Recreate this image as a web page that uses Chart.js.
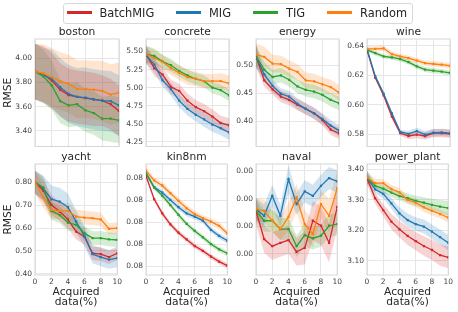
<!DOCTYPE html>
<html>
<head>
<meta charset="utf-8">
<script src="https://cdn.jsdelivr.net/npm/chart.js@4.4.0/dist/chart.umd.min.js"></script>
<style>
  body { margin: 0; background: #fff; font-family: 'DejaVu Sans', sans-serif; }
  #fig { position: relative; width: 458px; height: 312px; overflow: hidden; }
  .panel { position: absolute; }
  #legendBox { position: absolute; left: 63px; top: 3px; width: 350px; height: 21px;
               border: 1px solid #d8d8d8; border-radius: 3px; box-sizing: border-box; }
  .swatch { position: absolute; top: 11px; width: 25px; height: 3px; }
  .label { position: absolute; top: 3px; line-height: 20px; font-size: 11.4px; color: #262626; }
</style>
</head>
<body>
<div id="fig">
  <div id="legendBox"></div>
</div>
<script>
// x positions (acquired data %)
const xSteps = [0, 1, 2, 3, 4, 5, 6, 7, 8, 9, 10];
const methods = ['BatchMIG', 'MIG', 'TIG', 'Random'];

// boston
const boston_BatchMIG = [3.89, 3.87, 3.815, 3.74, 3.695, 3.68, 3.67, 3.66, 3.65, 3.62, 3.565];
const boston_MIG      = [3.89, 3.86, 3.83, 3.76, 3.705, 3.68, 3.675, 3.66, 3.65, 3.645, 3.61];
const boston_TIG      = [3.89, 3.85, 3.775, 3.645, 3.61, 3.62, 3.57, 3.547, 3.50, 3.50, 3.487];
const boston_Random   = [3.89, 3.875, 3.845, 3.81, 3.79, 3.745, 3.745, 3.74, 3.73, 3.70, 3.715];
const boston_BatchMIG_sd = [0.23, 0.23, 0.23, 0.22, 0.22, 0.22, 0.22, 0.22, 0.21, 0.21, 0.21];
const boston_MIG_sd      = [0.23, 0.23, 0.24, 0.24, 0.24, 0.24, 0.25, 0.25, 0.25, 0.25, 0.25];
const boston_TIG_sd      = [0.23, 0.22, 0.20, 0.18, 0.18, 0.18, 0.18, 0.18, 0.18, 0.19, 0.19];
const boston_Random_sd   = [0.23, 0.24, 0.24, 0.24, 0.24, 0.24, 0.24, 0.24, 0.25, 0.25, 0.25];
const boston_ticks = [3.4, 3.6, 3.8, 4.0];

// concrete
const concrete_BatchMIG = [5.46, 5.27, 5.18, 5.01, 4.955, 4.82, 4.73, 4.675, 4.60, 4.51, 4.48];
const concrete_MIG      = [5.45, 5.32, 5.10, 4.98, 4.82, 4.705, 4.625, 4.56, 4.49, 4.44, 4.38];
const concrete_TIG      = [5.46, 5.44, 5.36, 5.31, 5.23, 5.17, 5.12, 5.09, 5.00, 4.965, 4.895];
const concrete_Random   = [5.46, 5.41, 5.355, 5.27, 5.205, 5.145, 5.12, 5.09, 5.09, 5.09, 5.06];
const concrete_BatchMIG_sd = [0.12, 0.11, 0.10, 0.10, 0.10, 0.10, 0.10, 0.10, 0.10, 0.10, 0.10];
const concrete_MIG_sd      = [0.12, 0.10, 0.09, 0.09, 0.09, 0.09, 0.09, 0.10, 0.10, 0.10, 0.10];
const concrete_TIG_sd      = [0.12, 0.10, 0.09, 0.09, 0.08, 0.08, 0.08, 0.08, 0.08, 0.08, 0.08];
const concrete_Random_sd   = [0.12, 0.11, 0.10, 0.10, 0.10, 0.10, 0.10, 0.10, 0.10, 0.11, 0.11];
const concrete_ticks = [4.25, 4.5, 4.75, 5.0, 5.25, 5.5];

// energy
const energy_BatchMIG = [0.516, 0.473, 0.457, 0.444, 0.438, 0.429, 0.422, 0.414, 0.402, 0.385, 0.378];
const energy_MIG      = [0.516, 0.4835, 0.463, 0.449, 0.444, 0.431, 0.422, 0.414, 0.404, 0.392, 0.383];
const energy_TIG      = [0.516, 0.492, 0.479, 0.482, 0.474, 0.462, 0.456, 0.453, 0.447, 0.438, 0.432];
const energy_Random   = [0.519, 0.515, 0.503, 0.502, 0.494, 0.488, 0.473, 0.471, 0.466, 0.461, 0.451];
const energy_BatchMIG_sd = [0.020, 0.012, 0.010, 0.010, 0.010, 0.010, 0.010, 0.010, 0.010, 0.010, 0.010];
const energy_MIG_sd      = [0.020, 0.012, 0.011, 0.010, 0.010, 0.010, 0.010, 0.010, 0.010, 0.010, 0.010];
const energy_TIG_sd      = [0.020, 0.014, 0.013, 0.013, 0.012, 0.012, 0.012, 0.012, 0.012, 0.012, 0.012];
const energy_Random_sd   = [0.020, 0.018, 0.016, 0.015, 0.015, 0.014, 0.014, 0.014, 0.013, 0.013, 0.013];
const energy_ticks = [0.40, 0.45, 0.50];

// wine
const wine_BatchMIG = [0.6371, 0.6182, 0.6064, 0.592, 0.5809, 0.5789, 0.5798, 0.5789, 0.5809, 0.5809, 0.5804];
const wine_MIG      = [0.6376, 0.6193, 0.6076, 0.5942, 0.5816, 0.5804, 0.5822, 0.5798, 0.5811, 0.5813, 0.5809];
const wine_TIG      = [0.6371, 0.6349, 0.6327, 0.632, 0.6309, 0.6289, 0.626, 0.6238, 0.6231, 0.6224, 0.6216];
const wine_Random   = [0.6378, 0.6378, 0.6382, 0.6342, 0.6327, 0.6316, 0.6298, 0.6282, 0.6276, 0.6271, 0.6264];
const wine_BatchMIG_sd = [0.001, 0.001, 0.001, 0.0012, 0.0018, 0.0022, 0.0025, 0.0025, 0.0028, 0.0028, 0.0028];
const wine_MIG_sd      = [0.001, 0.001, 0.001, 0.0012, 0.0015, 0.002, 0.0022, 0.0025, 0.0025, 0.0025, 0.0025];
const wine_TIG_sd      = [0.0015, 0.0015, 0.0015, 0.0015, 0.0016, 0.0016, 0.0017, 0.0017, 0.0018, 0.0018, 0.0018];
const wine_Random_sd   = [0.0018, 0.0018, 0.0018, 0.0018, 0.0018, 0.0018, 0.0018, 0.0018, 0.0018, 0.0018, 0.0018];
const wine_ticks = [0.58, 0.60, 0.62, 0.64];

// yacht
const yacht_BatchMIG = [0.80, 0.764, 0.701, 0.672, 0.638, 0.585, 0.563, 0.49, 0.486, 0.473, 0.49];
const yacht_MIG      = [0.80, 0.774, 0.726, 0.716, 0.691, 0.628, 0.566, 0.486, 0.473, 0.462, 0.469];
const yacht_TIG      = [0.80, 0.778, 0.675, 0.657, 0.624, 0.614, 0.578, 0.556, 0.556, 0.551, 0.548];
const yacht_Random   = [0.803, 0.735, 0.68, 0.675, 0.675, 0.65, 0.646, 0.643, 0.638, 0.597, 0.60];
const yacht_BatchMIG_sd = [0.05, 0.05, 0.045, 0.04, 0.04, 0.035, 0.035, 0.03, 0.03, 0.03, 0.03];
const yacht_MIG_sd      = [0.05, 0.055, 0.06, 0.06, 0.06, 0.05, 0.045, 0.04, 0.04, 0.04, 0.04];
const yacht_TIG_sd      = [0.05, 0.05, 0.04, 0.035, 0.035, 0.03, 0.03, 0.03, 0.03, 0.03, 0.03];
const yacht_Random_sd   = [0.05, 0.045, 0.04, 0.035, 0.035, 0.03, 0.03, 0.03, 0.03, 0.025, 0.025];
const yacht_ticks = [0.4, 0.5, 0.6, 0.7, 0.8];

// kin8nm
const kin8nm_BatchMIG = [0.08211, 0.08105, 0.0804, 0.0799, 0.07952, 0.07921, 0.07891, 0.07869, 0.07843, 0.0782, 0.07802];
const kin8nm_MIG      = [0.08223, 0.08159, 0.08135, 0.08101, 0.08068, 0.0804, 0.08025, 0.08007, 0.07965, 0.07937, 0.07916];
const kin8nm_TIG      = [0.08223, 0.08158, 0.08121, 0.08078, 0.08033, 0.07992, 0.0796, 0.07931, 0.079, 0.07876, 0.07858];
const kin8nm_Random   = [0.08235, 0.0819, 0.08167, 0.08132, 0.08097, 0.08063, 0.08037, 0.08018, 0.08002, 0.07983, 0.07949];
const kin8nm_BatchMIG_sd = [0.00012, 0.00012, 0.00012, 0.00012, 0.00012, 0.00012, 0.00012, 0.00012, 0.00012, 0.00012, 0.00012];
const kin8nm_MIG_sd      = [0.00013, 0.00013, 0.00013, 0.00013, 0.00013, 0.00013, 0.00013, 0.00013, 0.00013, 0.00013, 0.00013];
const kin8nm_TIG_sd      = [0.00012, 0.00012, 0.00012, 0.00012, 0.00012, 0.00012, 0.00012, 0.00012, 0.00012, 0.00012, 0.00012];
const kin8nm_Random_sd   = [0.00015, 0.00015, 0.00015, 0.00015, 0.00015, 0.00015, 0.00015, 0.00015, 0.00015, 0.00015, 0.00015];
const kin8nm_ticks = [0.078, 0.079, 0.080, 0.081, 0.082];

// naval
const naval_BatchMIG = [0.00256, 0.00154, 0.00128, 0.0014, 0.0015, 0.00108, 0.00122, 0.0022, 0.00202, 0.0014, 0.0027];
const naval_MIG      = [0.00262, 0.00238, 0.0031, 0.00238, 0.0037, 0.0028, 0.00326, 0.0031, 0.00346, 0.00374, 0.00362];
const naval_TIG      = [0.00256, 0.0022, 0.0022, 0.0019, 0.0019, 0.00128, 0.00168, 0.00156, 0.00166, 0.00202, 0.00208];
const naval_Random   = [0.00262, 0.00256, 0.0022, 0.0019, 0.00234, 0.00304, 0.00208, 0.00172, 0.0028, 0.00238, 0.00338];
const naval_BatchMIG_sd = [0.0005, 0.0005, 0.0005, 0.0005, 0.0005, 0.0005, 0.0006, 0.0007, 0.0007, 0.0007, 0.0008];
const naval_MIG_sd      = [0.0004, 0.0004, 0.0004, 0.0004, 0.0005, 0.0004, 0.0004, 0.0004, 0.0004, 0.0004, 0.0004];
const naval_TIG_sd      = [0.0004, 0.0004, 0.0004, 0.0004, 0.0004, 0.0004, 0.0004, 0.0004, 0.0004, 0.0004, 0.0004];
const naval_Random_sd   = [0.0004, 0.0004, 0.0004, 0.0004, 0.0005, 0.0005, 0.0005, 0.0005, 0.0005, 0.0006, 0.0006];
const naval_ticks = [0.001, 0.002, 0.003, 0.004];

// power_plant
const power_BatchMIG = [3.37, 3.305, 3.266, 3.228, 3.203, 3.181, 3.164, 3.148, 3.135, 3.118, 3.111];
const power_MIG      = [3.373, 3.334, 3.319, 3.288, 3.255, 3.233, 3.22, 3.212, 3.195, 3.177, 3.159];
const power_TIG      = [3.373, 3.345, 3.336, 3.323, 3.312, 3.305, 3.296, 3.29, 3.283, 3.277, 3.272];
const power_Random   = [3.373, 3.354, 3.354, 3.335, 3.324, 3.299, 3.29, 3.275, 3.263, 3.253, 3.241];
const power_BatchMIG_sd = [0.02, 0.018, 0.02, 0.025, 0.027, 0.03, 0.03, 0.032, 0.033, 0.035, 0.035];
const power_MIG_sd      = [0.02, 0.014, 0.015, 0.018, 0.02, 0.022, 0.022, 0.023, 0.024, 0.025, 0.025];
const power_TIG_sd      = [0.02, 0.014, 0.013, 0.014, 0.015, 0.016, 0.017, 0.018, 0.02, 0.022, 0.024];
const power_Random_sd   = [0.02, 0.014, 0.013, 0.014, 0.014, 0.014, 0.014, 0.015, 0.015, 0.015, 0.015];
const power_ticks = [3.1, 3.2, 3.3, 3.4];

const panels = [
  { title: 'boston', yMin: 3.27, yMax: 4.16, ticks: boston_ticks,
    series: [boston_BatchMIG, boston_MIG, boston_TIG, boston_Random],
    sd: [boston_BatchMIG_sd, boston_MIG_sd, boston_TIG_sd, boston_Random_sd] },
  { title: 'concrete', yMin: 4.186, yMax: 5.673, ticks: concrete_ticks,
    series: [concrete_BatchMIG, concrete_MIG, concrete_TIG, concrete_Random],
    sd: [concrete_BatchMIG_sd, concrete_MIG_sd, concrete_TIG_sd, concrete_Random_sd] },
  { title: 'energy', yMin: 0.3546, yMax: 0.547, ticks: energy_ticks,
    series: [energy_BatchMIG, energy_MIG, energy_TIG, energy_Random],
    sd: [energy_BatchMIG_sd, energy_MIG_sd, energy_TIG_sd, energy_Random_sd] },
  { title: 'wine', yMin: 0.5718, yMax: 0.6445, ticks: wine_ticks,
    series: [wine_BatchMIG, wine_MIG, wine_TIG, wine_Random],
    sd: [wine_BatchMIG_sd, wine_MIG_sd, wine_TIG_sd, wine_Random_sd] },
  { title: 'yacht', yMin: 0.395, yMax: 0.88, ticks: yacht_ticks,
    series: [yacht_BatchMIG, yacht_MIG, yacht_TIG, yacht_Random],
    sd: [yacht_BatchMIG_sd, yacht_MIG_sd, yacht_TIG_sd, yacht_Random_sd] },
  { title: 'kin8nm', yMin: 0.07759, yMax: 0.08265, ticks: kin8nm_ticks,
    series: [kin8nm_BatchMIG, kin8nm_MIG, kin8nm_TIG, kin8nm_Random],
    sd: [kin8nm_BatchMIG_sd, kin8nm_MIG_sd, kin8nm_TIG_sd, kin8nm_Random_sd] },
  { title: 'naval', yMin: 0.00024, yMax: 0.00425, ticks: naval_ticks,
    series: [naval_BatchMIG, naval_MIG, naval_TIG, naval_Random],
    sd: [naval_BatchMIG_sd, naval_MIG_sd, naval_TIG_sd, naval_Random_sd] },
  { title: 'power_plant', yMin: 3.053, yMax: 3.417, ticks: power_ticks,
    series: [power_BatchMIG, power_MIG, power_TIG, power_Random],
    sd: [power_BatchMIG_sd, power_MIG_sd, power_TIG_sd, power_Random_sd] }
];

const LINE_COLORS = ['#d62728', '#1f77b4', '#2ca02c', '#ff7f0e'];
const BAND_COLORS = ['rgba(214,39,40,0.2)', 'rgba(31,119,180,0.2)', 'rgba(44,160,44,0.2)', 'rgba(255,127,14,0.2)'];
const GRID = '#e6e6e6';
const SPINE = '#d6d6d6';
const TEXT = '#262626';
const TICK_TEXT = '#444';

// plot-area edges in page pixels
const colLeft = [35, 146, 256, 367];
const colRight = [119, 229, 339, 450];
const rowTop = [39, 164];
const rowBottom = [148, 275];
const TITLE_H = 13;
const PAD_R = 6;

Chart.defaults.font.family = "'DejaVu Sans', sans-serif";

// light box around each axes, under the data
const framePlugin = {
  id: 'frame',
  beforeDatasetsDraw(chart) {
    const { ctx, chartArea: a } = chart;
    ctx.save();
    ctx.strokeStyle = SPINE;
    ctx.lineWidth = 1;
    ctx.strokeRect(a.left, a.top, a.right - a.left, a.bottom - a.top);
    ctx.restore();
  }
};

// subplot title centred over the plot area
const panelTitlePlugin = {
  id: 'panelTitle',
  afterDraw(chart, args, opts) {
    const { ctx, chartArea: a } = chart;
    ctx.save();
    ctx.font = "10.7px 'DejaVu Sans'";
    ctx.fillStyle = TEXT;
    ctx.textAlign = 'center';
    ctx.textBaseline = 'middle';
    ctx.fillText(opts.text, (a.left + a.right) / 2, a.top - TITLE_H / 2);
    ctx.restore();
  }
};

const fig = document.getElementById('fig');

panels.forEach((p, idx) => {
  const row = Math.floor(idx / 4);
  const col = idx % 4;
  const yAxisW = col === 0 ? 35 : 26;
  const xAxisH = row === 0 ? 6 : 312 - rowBottom[1];
  const left = colLeft[col] - yAxisW;
  const top = rowTop[row] - TITLE_H;
  const width = colRight[col] + PAD_R - left;
  const height = rowBottom[row] + xAxisH - top;

  const box = document.createElement('div');
  box.className = 'panel';
  box.style.left = left + 'px';
  box.style.top = top + 'px';
  const canvas = document.createElement('canvas');
  canvas.width = width;
  canvas.height = height;
  box.appendChild(canvas);
  fig.appendChild(box);

  const datasets = [];
  p.series.forEach((vals, k) => {
    const sd = p.sd[k];
    datasets.push({
      data: vals.map((v, i) => ({ x: xSteps[i], y: v + sd[i] })),
      borderWidth: 0, pointRadius: 0, fill: false, order: 10 + k
    });
    datasets.push({
      data: vals.map((v, i) => ({ x: xSteps[i], y: v - sd[i] })),
      borderWidth: 0, pointRadius: 0, fill: '-1', backgroundColor: BAND_COLORS[k], order: 10 + k
    });
    datasets.push({
      label: methods[k],
      data: vals.map((v, i) => ({ x: xSteps[i], y: v })),
      borderColor: LINE_COLORS[k], backgroundColor: LINE_COLORS[k],
      borderWidth: 1.3, pointStyle: 'rect', pointRadius: 1.6, pointBorderWidth: 0,
      fill: false, order: 3 - k
    });
  });

  new Chart(canvas, {
    type: 'line',
    data: { datasets },
    options: {
      responsive: false,
      animation: false,
      layout: { padding: { left: 0, right: PAD_R, top: TITLE_H, bottom: 0 } },
      plugins: {
        legend: { display: false },
        tooltip: { enabled: false },
        title: { display: false },
        panelTitle: { text: p.title }
      },
      scales: {
        x: {
          type: 'linear', min: 0, max: 10,
          ticks: { stepSize: 2, display: row === 1, color: TICK_TEXT, font: { size: 7.5 }, padding: 3, maxRotation: 0 },
          grid: { color: GRID, drawTicks: false },
          border: { display: false },
          title: {
            display: row === 1, text: ['Acquired', 'data(%)'], color: TEXT,
            font: { size: 10.7, lineHeight: 1.0 }, padding: { top: 0, bottom: 4 }
          },
          afterFit: s => { s.height = xAxisH; }
        },
        y: {
          min: p.yMin, max: p.yMax,
          afterBuildTicks: s => { s.ticks = p.ticks.map(v => ({ value: v })); },
          ticks: { color: TICK_TEXT, font: { size: 7.5 }, padding: 3, callback: v => Number(v).toFixed(2) },
          grid: { color: GRID, drawTicks: false },
          border: { display: false },
          title: {
            display: col === 0, text: 'RMSE', color: TEXT,
            font: { size: 10.7 }, padding: { top: 2, bottom: 0 }
          },
          afterFit: s => { s.width = yAxisW; }
        }
      }
    },
    plugins: [framePlugin, panelTitlePlugin]
  });
});

// figure legend
const legendX = [[67, 99.5], [176, 209], [253, 286], [327, 360]];
methods.forEach((m, k) => {
  const sw = document.createElement('div');
  sw.className = 'swatch';
  sw.style.left = legendX[k][0] + 'px';
  sw.style.background = LINE_COLORS[k];
  fig.appendChild(sw);
  const lb = document.createElement('div');
  lb.className = 'label';
  lb.style.left = legendX[k][1] + 'px';
  lb.textContent = m;
  fig.appendChild(lb);
});
</script>
</body>
</html>
